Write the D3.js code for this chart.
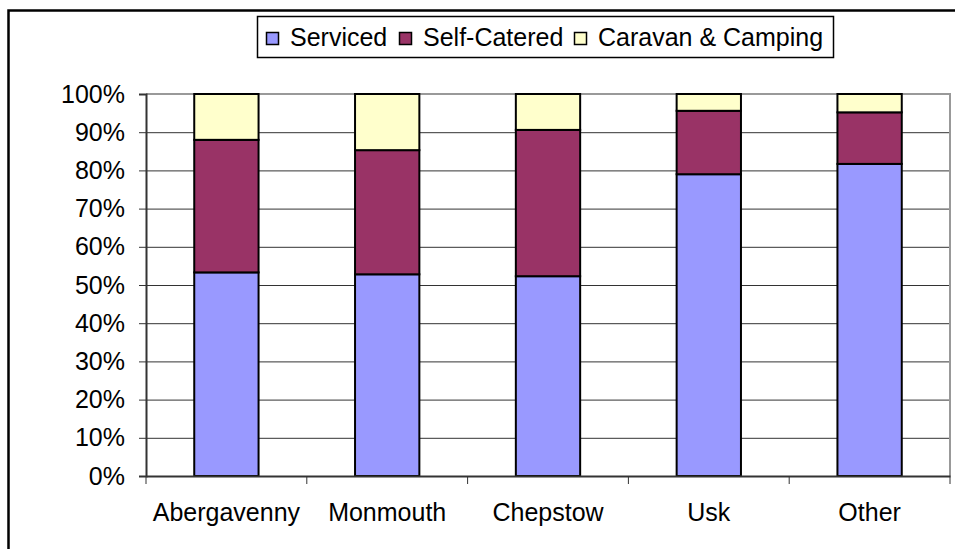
<!DOCTYPE html>
<html>
<head>
<meta charset="utf-8">
<script src="https://cdn.jsdelivr.net/npm/d3@7"></script>
<style>
  body { margin: 0; background: #fff; }
  svg { display: block; font-family: "Liberation Sans", Arial, sans-serif; }
</style>
</head>
<body>
<div id="chart"></div>
<script>
const categories = ["Abergavenny", "Monmouth", "Chepstow", "Usk", "Other"];
const serviced = [53.3, 52.8, 52.3, 79.0, 81.7];
const selfCatered = [34.7, 32.5, 38.3, 16.6, 13.5];
const caravanCamping = [12.0, 14.7, 9.4, 4.4, 4.8];
const seriesNames = ["Serviced", "Self-Catered", "Caravan & Camping"];
const yTicks = [0, 10, 20, 30, 40, 50, 60, 70, 80, 90, 100];

const colors = ["#9999FF", "#993366", "#FFFFCC"];
const W = 955, H = 549;
const plot = { left: 146, right: 950, top: 94, bottom: 476 };
const fontSize = 25;

const svg = d3.select("#chart").append("svg")
  .attr("width", W).attr("height", H);

// outer chart frame
svg.append("rect")
  .attr("x", 8.5).attr("y", 10.5)
  .attr("width", W + 10).attr("height", H + 10)
  .attr("fill", "#fff").attr("stroke", "#000").attr("stroke-width", 2.5);

const x = d3.scaleBand()
  .domain(categories)
  .range([plot.left, plot.right])
  .paddingInner(0.6).paddingOuter(0.3);

const band = d3.scaleBand().domain(categories).range([plot.left, plot.right]);

const y = d3.scaleLinear().domain([0, 100]).range([plot.bottom, plot.top]);

// gridlines
svg.append("g")
  .selectAll("line")
  .data(yTicks.slice(1, -1))
  .enter().append("line")
  .attr("x1", plot.left).attr("x2", plot.right)
  .attr("y1", d => y(d) + 0.5).attr("y2", d => y(d) + 0.5)
  .attr("stroke", "#333").attr("stroke-width", 1);

// plot border top and right
svg.append("path")
  .attr("d", `M${plot.left},${plot.top}H${plot.right}V${plot.bottom}`)
  .attr("fill", "none").attr("stroke", "#999").attr("stroke-width", 2);

// stacked bars
const table = categories.map((c, i) => ({
  cat: c, Serviced: serviced[i], "Self-Catered": selfCatered[i], "Caravan & Camping": caravanCamping[i]
}));
const stacked = d3.stack().keys(seriesNames)(table);

svg.append("g").selectAll("g")
  .data(stacked)
  .enter().append("g")
  .attr("fill", (d, i) => colors[i])
  .selectAll("rect")
  .data(d => d)
  .enter().append("rect")
  .attr("x", d => x(d.data.cat))
  .attr("y", d => y(d[1]))
  .attr("width", x.bandwidth())
  .attr("height", d => y(d[0]) - y(d[1]))
  .attr("stroke", "#000").attr("stroke-width", 2);

// y axis
const yAxis = svg.append("g")
  .attr("transform", `translate(${plot.left},0)`)
  .call(d3.axisLeft(y).tickValues(yTicks).tickFormat(d => d + "%").tickSize(7).tickPadding(14));
yAxis.select(".domain").attr("stroke", "#333").attr("stroke-width", 2);
yAxis.selectAll(".tick line").attr("stroke", "#333").attr("stroke-width", 1);
yAxis.selectAll("text").attr("font-size", fontSize).attr("fill", "#000")
  .attr("font-family", "Liberation Sans, Arial, sans-serif");

// x axis
const xAxis = svg.append("g")
  .attr("transform", `translate(0,${plot.bottom})`)
  .call(d3.axisBottom(band).tickSize(0).tickPadding(27));
xAxis.select(".domain").attr("stroke", "#333").attr("stroke-width", 2);
xAxis.selectAll("text").attr("font-size", fontSize).attr("fill", "#000")
  .attr("font-family", "Liberation Sans, Arial, sans-serif");
// category separators
xAxis.selectAll(".sep")
  .data(categories.concat(["end"]))
  .enter().append("line")
  .attr("x1", (d, i) => i < categories.length ? band(d) : plot.right)
  .attr("x2", (d, i) => i < categories.length ? band(d) : plot.right)
  .attr("y1", 0).attr("y2", 8)
  .attr("stroke", "#333").attr("stroke-width", 1);

// legend
const legend = svg.append("g");
legend.append("rect")
  .attr("x", 257.5).attr("y", 16.5).attr("width", 576).attr("height", 41)
  .attr("fill", "#fff").attr("stroke", "#000").attr("stroke-width", 1.5);
const legendX = [266, 399, 574];
seriesNames.forEach((name, i) => {
  legend.append("rect")
    .attr("x", legendX[i] + 0.5).attr("y", 32.5).attr("width", 12).attr("height", 12)
    .attr("fill", colors[i]).attr("stroke", "#000").attr("stroke-width", 1.5);
  legend.append("text")
    .attr("x", legendX[i] + 24).attr("y", 46)
    .attr("font-size", fontSize).text(name);
});
</script>
</body>
</html>
